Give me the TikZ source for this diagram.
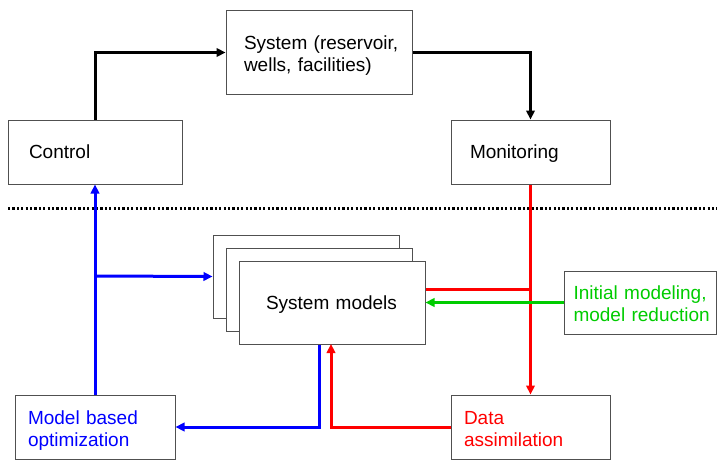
\documentclass[tikz,border=0pt]{standalone}
\usepackage{fontspec}
\setmainfont{Liberation Sans}
\usetikzlibrary{arrows.meta}
\definecolor{boxgray}{RGB}{80,80,80}
\definecolor{myblue}{RGB}{0,0,255}
\definecolor{myred}{RGB}{255,0,0}
\definecolor{mygreen}{RGB}{0,204,0}
\newcommand\boxfontsetup{\fontsize{19}{22}\selectfont\hyphenpenalty=10000\relax\exhyphenpenalty=10000\relax\hbadness=10000\relax\hfuzz=200pt\relax}
\tikzset{
  box/.style={draw=boxgray, line width=1pt, fill=white, align=left, inner ysep=0pt,
    font=\boxfontsetup, text depth=-5pt},
  twoline/.style={text depth=19pt},
  conn/.style={line width=3pt, -{Triangle[length=9pt,width=8.5pt]}},
  plain/.style={line width=3pt},
}
\begin{document}
\begin{tikzpicture}[x=1pt,y=-1pt]
\useasboundingbox (0,0) rectangle (717,460);
% dotted separator
\coordinate (dl) at (8,208);
\coordinate (dr) at (717,208);
\draw[line width=3pt, dash pattern=on 2.2pt off 2.2pt] (dl) -- (dr);
% top boxes
\node[box, twoline, minimum height=83pt, text width=150pt, inner xsep=18pt] (sys) at (319,52.5) {System\nobreakspace(reservoir,\\wells,\nobreakspace facilities)};
\node[box, minimum height=64pt, text width=132pt, inner xsep=21pt] (ctrl) at (95,152) {Control};
\node[box, minimum height=64pt, text width=121pt, inner xsep=19pt] (mon) at (530.5,152) {Monitoring};
% system models stack
\node[box, minimum width=186pt, minimum height=83pt, inner xsep=0pt] (sm3) at (306,276.5) {};
\node[box, minimum width=186pt, minimum height=83pt, inner xsep=0pt] (sm2) at (319,289.5) {};
\node[box, minimum height=83pt, text width=132pt, inner xsep=27pt] (sm) at (332,302.5) {System\nobreakspace models};
% bottom boxes
\node[box, twoline, minimum height=64pt, text width=134pt, inner xsep=13pt, text=myblue] (opt) at (95,427) {Model\nobreakspace based\\optimization};
\node[box, twoline, minimum height=64pt, text width=133pt, inner xsep=13pt, text=myred] (da) at (530.5,427) {Data\\assimilation};
\node[box, twoline, minimum height=63pt, text width=134pt, inner xsep=9pt, text=mygreen] (init) at (640.5,302.5) {Initial\nobreakspace modeling,\\model\nobreakspace reduction};
% black connectors
\draw[conn] (ctrl.north) |- (sys.west);
\draw[conn] (sys.east) -| (mon.north);
% blue connectors
\draw[conn, myblue] (opt.north) -- (ctrl.south);
\coordinate (bj) at (95,276);
\draw[conn, myblue] (bj) -- (sm3.west);
\draw[conn, myblue] (sm.south -| 319,0) |- (opt.east);
% red connectors
\draw[conn, myred] (mon.south) -- (da.north);
\coordinate (rj) at (530,289);
\draw[plain, myred] (rj) -- (rj -| sm.east);
\draw[conn, myred] (da.west) -| (331,344);
% green connector
\draw[conn, mygreen] (init.west) -- (init.west -| sm.east);
\end{tikzpicture}
\end{document}
